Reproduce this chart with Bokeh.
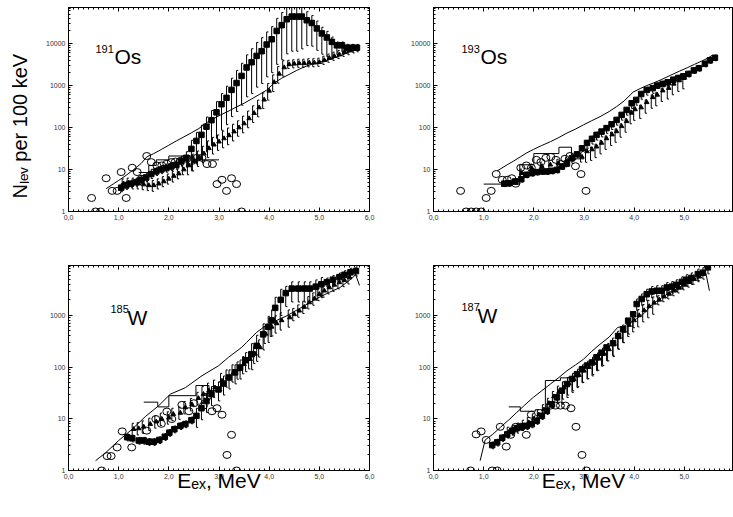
import math
from bokeh.plotting import figure
from bokeh.models import Range1d, FixedTicker, CustomJSTickFormatter, Label, LinearAxis, LogAxis
from bokeh.layouts import column, row
from bokeh.embed import file_html
from bokeh.resources import INLINE

FONT = "Liberation Sans"

x_ticks = [0, 1, 2, 3, 4, 5, 6]
y_ticks_top = [1, 10, 100, 1000, 10000]
y_ticks_bot = [1, 10, 100, 1000]

# ---------------- 191Os ----------------
os191_sq_e = [1.05, 1.15, 1.25, 1.35, 1.45, 1.55, 1.65, 1.75, 1.85, 1.95, 2.05, 2.15, 2.25, 2.35, 2.45, 2.55,
              2.65, 2.75, 2.85, 2.95, 3.05, 3.15, 3.25, 3.35, 3.45, 3.55, 3.65, 3.75, 3.85, 3.95, 4.05, 4.15,
              4.25, 4.35, 4.45, 4.55, 4.65, 4.75, 4.85, 4.95, 5.05, 5.15, 5.25, 5.35, 5.45, 5.55, 5.65, 5.75]
os191_sq_n = [3.7, 4.2, 4.6, 5.0, 5.7, 6.5, 7.8, 9, 10, 10.8, 11.8, 13, 16, 19, 31, 48,
              67, 105, 150, 230, 360, 510, 790, 1150, 1700, 2700, 3600, 5100, 6600, 9500, 12700, 20000,
              27500, 38000, 44000, 44000, 44000, 36000, 31000, 23000, 17500, 14000, 11000, 9100, 9100, 8000, 8000, 8000]
os191_sq_lo = [0.8, 0.8, 0.82, 0.8, 0.8, 0.8, 0.78, 0.8, 0.8, 0.8, 0.8, 0.78, 0.75, 0.6, 0.3, 0.28,
               0.26, 0.25, 0.25, 0.24, 0.24, 0.23, 0.23, 0.21, 0.2, 0.2, 0.18, 0.18, 0.17, 0.17, 0.16, 0.16,
               0.15, 0.15, 0.15, 0.15, 0.17, 0.25, 0.28, 0.3, 0.32, 0.35, 0.4, 0.6, 0.7, 0.75, 0.8, 0.8]
os191_sq_hi = [1.25, 1.25, 1.2, 1.25, 1.25, 1.25, 1.3, 1.25, 1.25, 1.25, 1.25, 1.3, 1.3, 1.4, 1.6, 1.6,
               1.7, 1.7, 1.7, 1.8, 1.8, 1.9, 1.9, 2.0, 2.0, 2.0, 2.1, 2.1, 2.1, 2.0, 2.0, 2.0,
               2.0, 2.0, 2.0, 2.0, 1.9, 1.6, 1.5, 1.5, 1.4, 1.4, 1.3, 1.2, 1.2, 1.2, 1.2, 1.2]
os191_tr_e = [1.1, 1.2, 1.3, 1.4, 1.5, 1.6, 1.7, 1.8, 1.9, 2.0, 2.1, 2.2, 2.3, 2.4, 2.5, 2.6, 2.7, 2.8,
              2.9, 3.0, 3.1, 3.2, 3.3, 3.4, 3.5, 3.6, 3.7, 3.8, 3.9, 4.0, 4.1, 4.2, 4.3, 4.4, 4.5, 4.6,
              4.7, 4.8, 4.9, 5.0, 5.1, 5.2, 5.3, 5.4, 5.5, 5.6, 5.7]
os191_tr_n = [4.6, 4.8, 4.8, 4.6, 4.4, 4.2, 4.2, 4.6, 5.2, 6.0, 7.0, 8.0, 10, 12.5, 15.5, 19, 24, 32,
              39, 46, 55, 65, 80, 100, 125, 165, 220, 300, 460, 750, 1200, 1900, 2700, 3200, 3300, 3400,
              3400, 3500, 3500, 3600, 4000, 4500, 5000, 5500, 6200, 6800, 7500]
os191_tr_lo = [0.75, 0.75, 0.72, 0.75, 0.75, 0.75, 0.72, 0.75, 0.75, 0.75, 0.72, 0.75, 0.75, 0.6, 0.6, 0.62, 0.6, 0.6,
               0.6, 0.62, 0.6, 0.6, 0.6, 0.62, 0.6, 0.6, 0.6, 0.6, 0.62, 0.6, 0.6, 0.6, 0.62, 0.8, 0.8, 0.8,
               0.8, 0.8, 0.8, 0.8, 0.8, 0.8, 0.8, 0.8, 0.8, 0.8, 0.8]
os191_tr_hi = [1.3, 1.3, 1.3, 1.3, 1.3, 1.3, 1.3, 1.3, 1.3, 1.3, 1.3, 1.3, 1.3, 1.5, 1.5, 1.45, 1.5, 1.5,
               1.5, 1.45, 1.5, 1.5, 1.5, 1.45, 1.5, 1.5, 1.5, 1.5, 1.45, 1.5, 1.5, 1.5, 1.45, 1.25, 1.25, 1.25,
               1.25, 1.25, 1.25, 1.25, 1.25, 1.25, 1.25, 1.25, 1.25, 1.25, 1.25]
os191_ci_e = [0.46, 0.54, 0.64, 0.75, 0.87, 0.97, 1.05, 1.15, 1.27, 1.37, 1.45, 1.56, 1.65, 1.76, 1.86, 1.96,
              2.05, 2.13, 2.23, 2.36, 2.46, 2.56, 2.66, 2.76, 2.87, 2.96, 3.06, 3.15, 3.25, 3.35, 3.45]
os191_ci_n = [2.1, 1, 1, 6.2, 3.1, 3.1, 8.7, 2.1, 11, 8.7, 6.0, 21, 15, 12.5, 12.5, 13.7,
              15, 15.5, 16, 18, 16, 19, 19, 13.5, 13.5, 4.5, 5.7, 3.1, 6.2, 4.5, 1]
os191_ln_e = [0.75, 0.9, 1.0, 1.15, 1.3, 1.45, 1.56, 1.7, 1.85, 2.0, 2.15, 2.3, 2.45, 2.6, 2.75, 2.9, 3.05, 3.2,
              3.35, 3.5, 3.65, 3.8, 3.95, 4.1, 4.25, 4.4, 4.55, 4.7, 4.85, 5.0, 5.15, 5.3, 5.45, 5.6, 5.75, 5.8]
os191_ln_n = [3.5, 4.6, 5.5, 7.3, 10, 14, 20, 24, 30, 38, 48, 60, 75, 95, 130, 165, 205, 250,
              310, 380, 480, 610, 780, 1150, 1500, 1850, 2300, 2800, 3200, 3600, 4000, 4600, 5300, 6400, 7800, 8300]
os191_hist_edges = [1.4, 1.6, 1.75, 2.0, 2.5, 3.0]
os191_hist_n = [8.5, 12.5, 17, 21, 17]

# ---------------- 193Os ----------------
os193_sq_e = [1.41, 1.5, 1.63, 1.75, 1.85, 1.96, 2.06, 2.16, 2.26, 2.36, 2.46, 2.56, 2.66, 2.76, 2.86, 2.96,
              3.06, 3.16, 3.25, 3.35, 3.45, 3.55, 3.65, 3.75, 3.85, 3.95, 4.04, 4.14, 4.25, 4.37,
              4.46, 4.57, 4.67, 4.78, 4.88, 4.98, 5.08, 5.19, 5.29, 5.41, 5.51, 5.61]
os193_sq_n = [4.6, 4.7, 5.2, 5.9, 7.5, 8.2, 8.7, 9, 9, 9.3, 9.8, 11.8, 14, 18.6, 23, 32,
              43, 54, 67, 80, 97, 120, 152, 200, 263, 380, 455, 630, 790, 870,
              1000, 1100, 1200, 1380, 1520, 1660, 1900, 2300, 2600, 3300, 4000, 4600]
os193_sq_lo = [0.85, 0.85, 0.85, 0.85, 0.85, 0.85, 0.85, 0.85, 0.85, 0.85, 0.85, 0.85, 0.85, 0.85, 0.85, 0.85,
               0.75, 0.75, 0.75, 0.75, 0.75, 0.75, 0.75, 0.75, 0.75, 0.75, 0.75, 0.75, 0.75, 0.75,
               0.85, 0.85, 0.85, 0.85, 0.85, 0.85, 0.85, 0.85, 0.85, 0.85, 0.85, 0.85]
os193_sq_hi = [1.15, 1.15, 1.15, 1.15, 1.15, 1.15, 1.15, 1.15, 1.15, 1.15, 1.15, 1.15, 1.15, 1.15, 1.15, 1.15,
               1.15, 1.15, 1.15, 1.15, 1.15, 1.15, 1.15, 1.15, 1.15, 1.15, 1.15, 1.15, 1.15, 1.15,
               1.15, 1.15, 1.15, 1.15, 1.15, 1.15, 1.15, 1.15, 1.15, 1.15, 1.15, 1.15]
os193_tr_e = [1.76, 1.96, 2.16, 2.33, 2.49, 2.66, 2.79, 2.96, 3.06, 3.16, 3.25, 3.35, 3.45, 3.56, 3.65, 3.75,
              3.85, 3.95, 4.02, 4.14, 4.25, 4.37, 4.46, 4.57, 4.69, 4.79, 4.9, 5.0]
os193_tr_n = [8.2, 10.7, 12, 13, 14, 15.5, 18.6, 20, 27, 30, 35, 43, 55, 68, 81, 107,
              141, 224, 270, 300, 400, 525, 600, 760, 870, 1100, 1320, 1520]
os193_tr_lo = [0.75, 0.75, 0.75, 0.75, 0.75, 0.75, 0.75, 0.75, 0.55, 0.55, 0.55, 0.55, 0.55, 0.55, 0.55, 0.55,
               0.55, 0.55, 0.55, 0.55, 0.55, 0.55, 0.55, 0.55, 0.55, 0.55, 0.55, 0.55]
os193_tr_hi = [1.25, 1.25, 1.25, 1.25, 1.25, 1.25, 1.25, 1.25, 1.15, 1.15, 1.15, 1.15, 1.15, 1.15, 1.15, 1.15,
               1.15, 1.15, 1.15, 1.15, 1.15, 1.15, 1.15, 1.15, 1.15, 1.15, 1.15, 1.15]
os193_ci_e = [0.54, 0.65, 0.75, 0.85, 0.95, 1.05, 1.15, 1.25, 1.37, 1.47, 1.56, 1.64, 1.74, 1.85, 1.95,
              2.05, 2.14, 2.24, 2.34, 2.44, 2.54, 2.62, 2.72, 2.83, 2.94, 3.04]
os193_ci_n = [3.1, 1, 1, 1, 1, 2.1, 3.1, 7.8, 5.7, 5.7, 6.2, 4.6, 11, 12.5, 11,
              17, 15, 19, 20, 17, 13.5, 18, 21, 12, 7.8, 3.1]
os193_ln_e = [1.27, 1.47, 1.6, 1.73, 1.86, 1.99, 2.15, 2.33, 2.5, 2.66, 2.83, 2.99, 3.15, 3.32, 3.5,
              3.65, 3.8, 3.98, 4.12, 4.25, 4.38, 4.55, 4.72, 4.9, 5.07, 5.2, 5.34, 5.45, 5.55]
os193_ln_n = [9.3, 13, 16, 20, 25, 30, 37, 46, 58, 74, 92, 116, 145, 182, 240,
              316, 430, 700, 850, 1000, 1150, 1400, 1750, 2200, 2700, 3200, 3800, 4400, 5200]
os193_hist_edges = [1.0, 1.72, 2.0, 2.5, 2.75, 3.0]
os193_hist_n = [4.5, 13, 24, 34, 18]

# ---------------- 185W ----------------
w185_sq_e = [1.17, 1.27, 1.4, 1.5, 1.6, 1.7, 1.81, 1.92, 2.01, 2.11, 2.23, 2.33, 2.45,
             2.55, 2.65, 2.75, 2.85, 2.99, 3.09, 3.2, 3.32, 3.42, 3.53,
             3.65, 3.75, 3.88, 3.98, 4.05, 4.12, 4.23,
             4.33, 4.45, 4.58, 4.7, 4.81, 4.93, 5.04,
             5.15, 5.27, 5.4, 5.5, 5.62, 5.73]
w185_sq_n = [4.4, 4.2, 3.8, 3.8, 3.6, 3.6, 3.9, 4.5, 5.4, 6.3, 7.3, 7.9, 9.4,
             11.4, 16, 22, 30, 37, 48, 63, 79, 98, 136,
             178, 258, 430, 600, 800, 1400, 2000,
             2700, 3300, 3300, 3300, 3300, 3600, 4000,
             4400, 4900, 5500, 6100, 6800, 7200]
w185_sq_lo = [0.85, 0.85, 0.85, 0.85, 0.85, 0.85, 0.85, 0.85, 0.85, 0.85, 0.85, 0.85, 0.85,
              0.6, 0.6, 0.6, 0.6, 0.6, 0.6, 0.6, 0.6, 0.6, 0.6,
              0.5, 0.5, 0.5, 0.5, 0.5, 0.5, 0.5,
              0.55, 0.55, 0.55, 0.55, 0.55, 0.55, 0.55,
              0.8, 0.8, 0.8, 0.8, 0.8, 0.8]
w185_sq_hi = [1.15, 1.15, 1.15, 1.15, 1.15, 1.15, 1.15, 1.15, 1.15, 1.15, 1.15, 1.15, 1.15,
              1.4, 1.4, 1.4, 1.4, 1.4, 1.4, 1.4, 1.4, 1.4, 1.4,
              1.6, 1.6, 1.6, 1.6, 1.6, 1.6, 1.6,
              1.35, 1.35, 1.35, 1.35, 1.35, 1.35, 1.35,
              1.2, 1.2, 1.2, 1.2, 1.2, 1.2]
w185_tr_e = [1.3, 1.4, 1.5, 1.63, 1.75, 1.86, 2.0, 2.09, 2.23, 2.33, 2.46, 2.59,
             2.69, 2.8, 2.92, 3.06, 3.17, 3.29, 3.39, 3.5, 3.62, 3.72, 3.82, 3.93, 4.05, 4.15, 4.25, 4.41,
             4.5, 4.6, 4.7, 4.8, 4.9, 5.0, 5.1, 5.2, 5.3, 5.4, 5.5, 5.6]
w185_tr_n = [6.3, 6.5, 7.0, 7.9, 8.8, 9.9, 10.5, 12.3, 13, 16.6, 19, 25,
             30, 35, 40, 54, 63, 79, 90, 114, 142, 180, 240, 440, 600, 700, 800, 910,
             1050, 1230, 1450, 1780, 2100, 2570, 3000, 3470, 3900, 4350, 4800, 5400]
w185_tr_lo = [0.75, 0.75, 0.75, 0.75, 0.75, 0.75, 0.75, 0.75, 0.75, 0.75, 0.75, 0.75,
              0.65, 0.65, 0.65, 0.65, 0.65, 0.65, 0.65, 0.65, 0.65, 0.65, 0.65, 0.65, 0.65, 0.65, 0.65, 0.65,
              0.75, 0.75, 0.75, 0.75, 0.75, 0.75, 0.75, 0.75, 0.75, 0.75, 0.75, 0.75]
w185_tr_hi = [1.3, 1.3, 1.3, 1.3, 1.3, 1.3, 1.3, 1.3, 1.3, 1.3, 1.3, 1.3,
              1.4, 1.4, 1.4, 1.4, 1.4, 1.4, 1.4, 1.4, 1.4, 1.4, 1.4, 1.4, 1.4, 1.4, 1.4, 1.4,
              1.3, 1.3, 1.3, 1.3, 1.3, 1.3, 1.3, 1.3, 1.3, 1.3, 1.3, 1.3]
w185_ci_e = [0.66, 0.77, 0.85, 0.97, 1.07, 1.26, 1.56, 1.74, 1.85, 1.96, 2.06,
             2.26, 2.4, 2.5, 2.69, 2.77, 2.86, 2.96, 3.06, 3.16, 3.25, 3.35]
w185_ci_n = [1, 1.9, 1.9, 2.8, 5.7, 2.8, 5.9, 9.9, 8, 13.8, 9.9,
             18.6, 14, 20, 18, 27, 14, 16, 12, 2.0, 4.9, 1]
w185_ln_e = [0.54, 0.74, 1.0, 1.27, 1.53, 1.8, 2.03, 2.33, 2.66, 2.99, 3.19, 3.45, 3.55,
             3.75, 3.9, 4.1, 4.35, 4.6, 4.94, 5.2, 5.41, 5.67, 5.72, 5.8]
w185_ln_n = [1.55, 2.2, 3.8, 6.3, 11, 18, 30, 40, 68, 106, 155, 240, 300,
             470, 600, 760, 980, 1350, 2100, 2800, 3450, 5400, 6300, 3800]
w185_hist_edges = [1.5, 1.78, 2.0, 2.54, 2.8, 3.0]
w185_hist_n = [21, 17, 28, 44, 35]

# ---------------- 187W ----------------
w187_sq_e = [1.17, 1.27, 1.37, 1.47, 1.57, 1.66, 1.76, 1.86, 1.96, 2.06, 2.16, 2.26, 2.36, 2.46,
             2.56, 2.66, 2.76, 2.86, 2.96, 3.06, 3.16, 3.25, 3.35, 3.45, 3.58, 3.68, 3.78, 3.88, 3.98,
             4.05, 4.15, 4.25, 4.35, 4.45, 4.55, 4.65, 4.75, 4.84, 4.95, 5.04, 5.14, 5.27, 5.37, 5.47]
w187_sq_n = [3.1, 3.5, 4.3, 5.0, 5.9, 6.6, 7.0, 7.3, 7.9, 9.2, 11.4, 14.3, 19, 26,
             35, 47, 59, 73, 91, 107, 123, 155, 190, 240, 290, 400, 540, 790, 1050,
             1660, 2080, 2570, 2900, 3000, 3000, 3460, 3600, 3900, 4450, 4900, 5300, 6300, 6700, 8500]
w187_sq_lo = [0.85, 0.85, 0.85, 0.85, 0.85, 0.85, 0.85, 0.85, 0.85, 0.85, 0.85, 0.85, 0.85, 0.85,
              0.55, 0.55, 0.55, 0.55, 0.55, 0.55, 0.55, 0.55, 0.55, 0.55, 0.55, 0.55, 0.55, 0.55, 0.55,
              0.75, 0.75, 0.75, 0.75, 0.75, 0.75, 0.75, 0.75, 0.75, 0.75, 0.75, 0.75, 0.75, 0.75, 0.75]
w187_sq_hi = [1.15, 1.15, 1.15, 1.15, 1.15, 1.15, 1.15, 1.15, 1.15, 1.15, 1.15, 1.15, 1.15, 1.15,
              1.1, 1.1, 1.1, 1.1, 1.1, 1.1, 1.1, 1.1, 1.1, 1.1, 1.1, 1.1, 1.1, 1.1, 1.1,
              1.25, 1.25, 1.25, 1.25, 1.25, 1.25, 1.25, 1.25, 1.25, 1.25, 1.25, 1.25, 1.25, 1.25, 1.25]
w187_tr_e = [1.5, 1.6, 1.7, 1.8, 1.9, 2.0, 2.1, 2.2, 2.3, 2.4, 2.5, 2.6, 2.7, 2.8, 2.9, 3.0, 3.1,
             3.2, 3.3, 3.4, 3.5, 3.6, 3.7, 3.8, 3.9, 4.0, 4.1, 4.2, 4.3, 4.4, 4.5, 4.6, 4.7, 4.8,
             4.9, 5.0, 5.1, 5.2, 5.3]
w187_tr_n = [5.5, 6, 6.6, 7.5, 8.5, 10, 12, 15, 20, 27, 33, 40, 48, 58, 70, 85, 100,
             120, 145, 180, 220, 280, 380, 500, 650, 800, 1000, 1250, 1500, 1750, 2000, 2300, 2600, 3000,
             3400, 3900, 4400, 5000, 5600]
w187_tr_lo = [0.8, 0.8, 0.8, 0.8, 0.8, 0.8, 0.8, 0.8, 0.8, 0.8, 0.6, 0.6, 0.6, 0.6, 0.6, 0.6, 0.6,
              0.6, 0.6, 0.6, 0.6, 0.6, 0.6, 0.6, 0.6, 0.6, 0.6, 0.6, 0.6, 0.6, 0.8, 0.8, 0.8, 0.8,
              0.8, 0.8, 0.8, 0.8, 0.8]
w187_tr_hi = [1.25, 1.25, 1.25, 1.25, 1.25, 1.25, 1.25, 1.25, 1.25, 1.25, 1.3, 1.3, 1.3, 1.3, 1.3, 1.3, 1.3,
              1.3, 1.3, 1.3, 1.3, 1.3, 1.3, 1.3, 1.3, 1.3, 1.3, 1.3, 1.3, 1.3, 1.2, 1.2, 1.2, 1.2,
              1.2, 1.2, 1.2, 1.2, 1.2]
w187_ci_e = [0.74, 0.85, 0.95, 1.05, 1.17, 1.27, 1.33, 1.45, 1.54, 1.64, 1.74, 1.85, 1.95,
             2.33, 2.43, 2.53, 2.63, 2.74, 2.84, 2.96, 3.05]
w187_ci_n = [1, 5.0, 5.7, 3.9, 1, 1, 7.0, 2.9, 4.9, 7.0, 7.0, 4.9, 12,
             18, 18, 18, 18, 16, 7.0, 2.0, 1]
w187_ln_e = [0.93, 1.03, 1.18, 1.33, 1.5, 1.66, 1.82, 1.99, 2.16, 2.33, 2.5, 2.66, 2.83, 2.99, 3.15,
             3.32, 3.5, 3.67, 3.8, 4.0, 4.2, 4.38, 4.55, 4.71, 4.88, 5.04, 5.2, 5.37, 5.43, 5.5]
w187_ln_n = [1.55, 3.9, 5.0, 6.8, 9.5, 13.3, 18.5, 26, 35, 47, 63, 85, 110, 142, 200,
             277, 380, 585, 620, 800, 1100, 1700, 2200, 2800, 3400, 4200, 5000, 6200, 6500, 3000]
w187_hist_edges = [1.5, 1.73, 2.03, 2.23, 2.53, 2.73]
w187_hist_n = [17, 14, 15, 55, 62]

# ---------------- geometry ----------------
PX_PER_MEV = 301 / 6.0
TOP_FRAME_H = 204
BOT_FRAME_H = 205
TOP_YMAX = 72500.0
BOT_YMAX = 9230.0
TOP_DEC = TOP_FRAME_H / math.log10(TOP_YMAX)
BOT_DEC = BOT_FRAME_H / math.log10(BOT_YMAX)
X_MINOR = [i / 10 for i in range(61) if i % 10]


def tick_style(a, labels=True):
    a.major_tick_in = 4
    a.major_tick_out = 0
    a.minor_tick_in = 2
    a.minor_tick_out = 0
    a.axis_line_color = "black"
    a.major_tick_line_color = "black"
    a.minor_tick_line_color = "black"
    a.major_label_text_font = FONT
    if labels:
        a.major_label_text_font_size = "7px"
        a.major_label_text_color = "#333333"
        a.major_label_standoff = 3
    else:
        a.major_label_text_font_size = "0px"
        a.major_label_standoff = 0
        a.formatter = CustomJSTickFormatter(code="return '';")


def make_fig(left, right, top, bottom, fw, fh, xmax, ymax, yticks, ndec, right_axis):
    p = figure(frame_width=fw, frame_height=fh, x_range=Range1d(0, xmax), y_range=Range1d(1, ymax),
               y_axis_type="log", output_backend="svg", toolbar_location=None,
               min_border_left=left, min_border_right=right, min_border_top=top, min_border_bottom=bottom,
               background_fill_color="white", border_fill_color="white")
    p.xgrid.visible = False
    p.ygrid.visible = False
    p.outline_line_color = "black"
    p.outline_line_width = 1
    y_minor = [m * 10 ** d for d in range(ndec) for m in range(2, 10)]
    xa = p.below[0]
    ya = p.left[0]
    xa.ticker = FixedTicker(ticks=x_ticks, minor_ticks=X_MINOR)
    xa.formatter = CustomJSTickFormatter(code="return tick.toFixed(1).replace('.', ',');")
    ya.ticker = FixedTicker(ticks=yticks, minor_ticks=y_minor)
    ya.formatter = CustomJSTickFormatter(code="return Math.round(tick).toString();")
    tick_style(xa)
    tick_style(ya)
    top_ax = LinearAxis(ticker=FixedTicker(ticks=x_ticks, minor_ticks=X_MINOR))
    tick_style(top_ax, labels=False)
    p.add_layout(top_ax, "above")
    if right_axis:
        r_ax = LogAxis(ticker=FixedTicker(ticks=yticks, minor_ticks=y_minor))
        tick_style(r_ax, labels=False)
        p.add_layout(r_ax, "right")
    return p


def errbars(p, e, n, lo, hi, dx):
    xs = [x + dx for x in e]
    y0 = [v * f for v, f in zip(n, lo)]
    y1 = [v * f for v, f in zip(n, hi)]
    xc = [x + 0.035 for x in xs]
    p.segment(xs, y0, xs, y1, line_color="black", line_width=1)
    p.segment(xs, y0, xc, y0, line_color="black", line_width=1)
    p.segment(xs, y1, xc, y1, line_color="black", line_width=1)


def draw_panel(p, d):
    hx, hy = [], []
    for i, v in enumerate(d["hn"]):
        hx += [d["he"][i], d["he"][i + 1]]
        hy += [v, v]
    p.line(d["le"], d["ln"], line_color="black", line_width=1)
    p.line(hx, hy, line_color="black", line_width=1)
    errbars(p, d["se"], d["sn"], d["slo"], d["shi"], 0.0)
    errbars(p, d["te"], d["tn"], d["tlo"], d["thi"], -0.03)
    p.scatter(d["se"], d["sn"], marker="square", size=5.5, fill_color="black", line_color="black")
    p.scatter(d["te"], d["tn"], marker="triangle", size=4.5, fill_color="black", line_color="black")
    p.ellipse(d["ce"], d["cn"], width=8, height=7, width_units="screen", height_units="screen",
              fill_color=None, line_color="black", line_width=1)


def add_text(p, x, y, text, size):
    p.add_layout(Label(x=x, y=y, text=text, text_font=FONT, text_font_size=size, text_color="black",
                       text_align="left", text_baseline="alphabetic"))


def xd(xpx, x0):
    return (xpx - x0) / PX_PER_MEV


def yd_top(ypx):
    return 10 ** ((211 - ypx) / TOP_DEC)


def yd_bot(ypx):
    return 10 ** ((470 - ypx) / BOT_DEC)


panels = {
    "os191": dict(se=os191_sq_e, sn=os191_sq_n, slo=os191_sq_lo, shi=os191_sq_hi,
                  te=os191_tr_e, tn=os191_tr_n, tlo=os191_tr_lo, thi=os191_tr_hi,
                  ce=os191_ci_e, cn=os191_ci_n, le=os191_ln_e, ln=os191_ln_n,
                  he=os191_hist_edges, hn=os191_hist_n),
    "os193": dict(se=os193_sq_e, sn=os193_sq_n, slo=os193_sq_lo, shi=os193_sq_hi,
                  te=os193_tr_e, tn=os193_tr_n, tlo=os193_tr_lo, thi=os193_tr_hi,
                  ce=os193_ci_e, cn=os193_ci_n, le=os193_ln_e, ln=os193_ln_n,
                  he=os193_hist_edges, hn=os193_hist_n),
    "w185": dict(se=w185_sq_e, sn=w185_sq_n, slo=w185_sq_lo, shi=w185_sq_hi,
                 te=w185_tr_e, tn=w185_tr_n, tlo=w185_tr_lo, thi=w185_tr_hi,
                 ce=w185_ci_e, cn=w185_ci_n, le=w185_ln_e, ln=w185_ln_n,
                 he=w185_hist_edges, hn=w185_hist_n),
    "w187": dict(se=w187_sq_e, sn=w187_sq_n, slo=w187_sq_lo, shi=w187_sq_hi,
                 te=w187_tr_e, tn=w187_tr_n, tlo=w187_tr_lo, thi=w187_tr_hi,
                 ce=w187_ci_e, cn=w187_ci_n, le=w187_ln_e, ln=w187_ln_n,
                 he=w187_hist_edges, hn=w187_hist_n),
}

XMAX_R = 300 / PX_PER_MEV

p1 = make_fig(68, 14, 7, 30, 301, TOP_FRAME_H, 6.0, TOP_YMAX, y_ticks_top, 5, True)
p2 = make_fig(50, 0, 7, 30, 300, TOP_FRAME_H, XMAX_R, TOP_YMAX, y_ticks_top, 5, False)
p3 = make_fig(68, 14, 24, 47, 301, BOT_FRAME_H, 6.0, BOT_YMAX, y_ticks_bot, 4, True)
p4 = make_fig(50, 0, 24, 47, 300, BOT_FRAME_H, XMAX_R, BOT_YMAX, y_ticks_bot, 4, False)

draw_panel(p1, panels["os191"])
draw_panel(p2, panels["os193"])
draw_panel(p3, panels["w185"])
draw_panel(p4, panels["w187"])

# nucleus labels (anchor = visual centre of glyphs)
add_text(p1, xd(95, 68), yd_top(48), "191", "11px")
add_text(p1, xd(114, 68), yd_top(56), "Os", "21px")
add_text(p2, xd(461, 433), yd_top(48), "193", "11px")
add_text(p2, xd(480, 433), yd_top(56), "Os", "21px")
add_text(p3, xd(110, 68), yd_bot(308), "185", "11px")
add_text(p3, xd(127, 68), yd_bot(317), "W", "21px")
add_text(p4, xd(461, 433), yd_bot(306), "187", "11px")
add_text(p4, xd(477, 433), yd_bot(315), "W", "21px")

# y axis title (trailing no-break spaces shift it toward the bottom like the original)
ya1 = p1.left[0]
ya1.axis_label = "N\u2097\u2091\u1d65 per 100 keV" + "\u00a0" * 6
ya1.axis_label_text_font = FONT
ya1.axis_label_text_font_size = "20px"
ya1.axis_label_text_font_style = "normal"
ya1.axis_label_text_color = "black"
ya1.axis_label_standoff = 12

# x axis titles
for p in (p3, p4):
    ax = p.below[0]
    ax.axis_label = "E\u2091\u2093, MeV"
    ax.axis_label_text_font = FONT
    ax.axis_label_text_font_size = "21px"
    ax.axis_label_text_font_style = "normal"
    ax.axis_label_text_color = "black"
    ax.axis_label_standoff = -13

layout = column(row(p1, p2), row(p3, p4))
open("out.html", "w").write(file_html(layout, INLINE))
